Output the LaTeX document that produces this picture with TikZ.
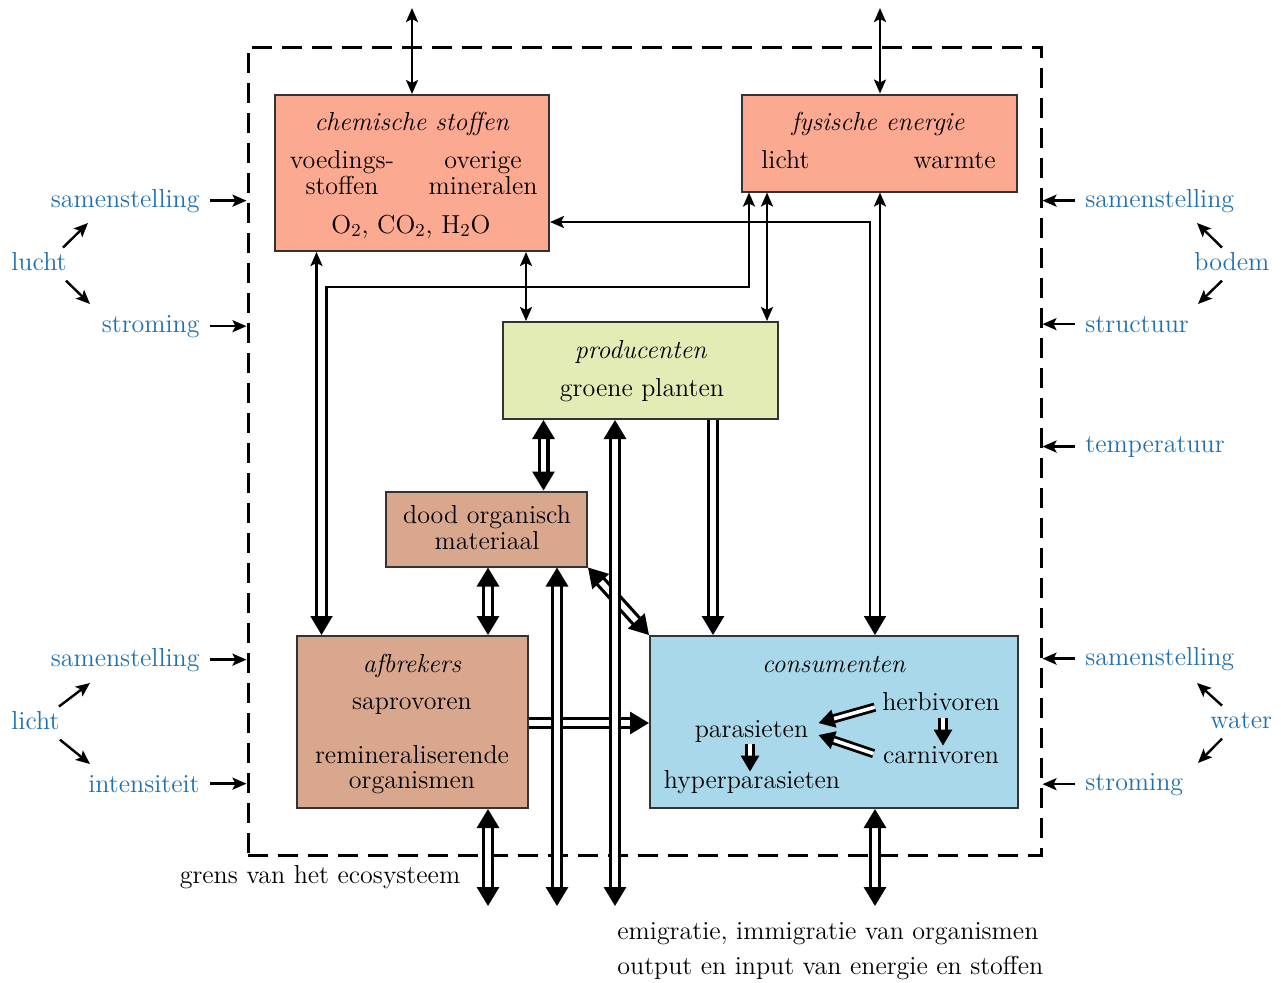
\documentclass[tikz,border=0pt]{standalone}
\usepackage{fontspec}
\usetikzlibrary{arrows.meta,calc}
\definecolor{ChemFill}{HTML}{FBA990}
\definecolor{ProdFill}{HTML}{E3ECB5}
\definecolor{DeadFill}{HTML}{D9A78E}
\definecolor{ConsFill}{HTML}{A8D8EA}
\definecolor{LabelBlue}{HTML}{1F70B0}
\definecolor{BoxLine}{HTML}{333333}

\begin{document}
\begin{tikzpicture}[
        x=0.5pt, y=-0.5pt,
        font=\fontsize{13}{13}\selectfont,
        >={Stealth[length=7pt,width=6pt,inset=1.5pt]},
        big/.tip={Triangle[length=9.5pt,width=11pt]},
        small/.tip={Triangle[length=8pt,width=9pt]},
        box/.style={draw=BoxLine, line width=1pt, inner sep=0pt},
        eco/.style={draw, line width=1.5pt, dash pattern=on 10pt off 5pt, inner sep=0pt},
        link/.style={line width=1.2pt},
        dbl/.style={double, line width=1.6pt, double distance=2.8pt},
        smalldbl/.style={double, line width=1.4pt, double distance=1.8pt, -small},
        head/.style={line width=1pt, -big},
        txt/.style={inner sep=0pt, anchor=base},
        lbl/.style={text=LabelBlue, inner sep=0pt},
        side/.style={link, ->, shorten <=5pt}
    ]
        \useasboundingbox (0,0) rectangle (1281,982);

        % grens van het ecosysteem
        \node[eco, minimum width=396.5pt, minimum height=404pt] (eco) at (644.5,451) {};

        % compartimenten
        \node[box, fill=ChemFill, minimum width=137pt, minimum height=78pt] (chem) at (412,173) {};
        \node[box, fill=ChemFill, minimum width=137.5pt, minimum height=48.5pt] (fys) at (879.5,143) {};
        \node[box, fill=ProdFill, minimum width=137.5pt, minimum height=48.5pt] (prod) at (640.5,370.5) {};
        \node[box, fill=DeadFill, minimum width=100.5pt, minimum height=37.5pt] (dood) at (486.5,529) {};
        \node[box, fill=DeadFill, minimum width=115.5pt, minimum height=86pt] (afb) at (412.5,722) {};
        \node[box, fill=ConsFill, minimum width=184pt, minimum height=86pt] (cons) at (834,722) {};

        \node[txt] (chemT) at (412,130) {\textit{chemische stoffen}};
        \node[txt] (voed1) at (342,168) {voedings-};
        \node[txt] (voed2) at (342,194) {stoffen};
        \node[txt] (over1) at (483,168) {overige};
        \node[txt] (over2) at (483,194) {mineralen};
        \node[txt] (gas) at (411,233) {O\textsubscript{2}, CO\textsubscript{2}, H\textsubscript{2}O};

        \node[txt] (fysT) at (878,130) {\textit{fysische energie}};
        \node[txt, anchor=base west] (licht) at (761,168) {licht};
        \node[txt, anchor=base east] (warmte) at (996,168) {warmte};

        \node[txt] (prodT) at (641,358) {\textit{producenten}};
        \node[txt] (prodS) at (642,396) {groene planten};

        \node[txt] (dood1) at (487,523) {dood organisch};
        \node[txt] (dood2) at (487,549) {materiaal};

        \node[txt] (afbT) at (412,672) {\textit{afbrekers}};
        \node[txt] (sapro) at (412,709) {saprovoren};
        \node[txt] (remin1) at (412,763) {remineraliserende};
        \node[txt] (remin2) at (412,788) {organismen};

        \node[txt] (consT) at (834,672) {\textit{consumenten}};
        \node[txt] (herb) at (941,710) {herbivoren};
        \node[txt] (carn) at (941,763) {carnivoren};
        \node[txt] (paras) at (751.5,737) {parasieten};
        \node[txt] (hyper) at (752,788) {hyperparasieten};

        % abiotische factoren
        \node[txt, lbl, anchor=base east] (samL1) at (200,207) {samenstelling};
        \node[txt, lbl, anchor=base west] (lucht) at (11,270) {lucht};
        \node[txt, lbl, anchor=base east] (stromL) at (200,332) {stroming};
        \node[txt, lbl, anchor=base east] (samL2) at (200,666) {samenstelling};
        \node[txt, lbl, anchor=base west] (lichtL) at (11,729) {licht};
        \node[txt, lbl, anchor=base east] (inten) at (200,792) {intensiteit};

        \node[txt, lbl, anchor=base west] (samR1) at (1085,207) {samenstelling};
        \node[txt, lbl, anchor=base west] (bodem) at (1194,270) {bodem};
        \node[txt, lbl, anchor=base west] (struct) at (1085,332) {structuur};
        \node[txt, lbl, anchor=base west] (temp) at (1085,452) {temperatuur};
        \node[txt, lbl, anchor=base west] (samR2) at (1085,665) {samenstelling};
        \node[txt, lbl, anchor=base west] (water) at (1210,728) {water};
        \node[txt, lbl, anchor=base west] (stromR) at (1085,790) {stroming};

        \node[txt] (grens) at (320,883) {grens van het ecosysteem};
        \node[txt, anchor=base west] (emi) at (617,939) {emigratie, immigratie van organismen};
        \node[txt, anchor=base west] (inout) at (617,974) {output en input van energie en stoffen};

        % hulppunten
        \coordinate (topL) at (412,8);
        \coordinate (topR) at (880,8);
        \coordinate (kA) at (316.5,0);
        \coordinate (kB) at (326.5,287);
        \coordinate (kD) at (749,287);
        \coordinate (kAB) at (321.5,0);
        \coordinate (kC) at (526,0);
        \coordinate (kE) at (767,0);
        \coordinate (kF) at (870,222);
        \coordinate (kFG) at (875,0);
        \coordinate (kPD) at (543.5,0);
        \coordinate (kPC) at (713,0);
        \coordinate (rAC) at (0,723);
        \coordinate (out1) at (488,906);
        \coordinate (out2) at (557,906);
        \coordinate (out3) at (615,906);
        \coordinate (out4) at (875,906);

        % enkele stromen
        \draw[link,<->] (topL) -- (chem.north);
        \draw[link,<->] (topR) -- (fys.north -| topR);
        \draw[link,<->] (chem.south -| kC) -- (prod.north -| kC);
        \draw[link,<->] (fys.south -| kE) -- (prod.north -| kE);
        \draw[link,<-,shorten >=9pt] (chem.south -| kA) -- (afb.north -| kA);
        \draw[link,<-,shorten >=9pt] (fys.south -| kD) -- (kD) -- (kB) -- (afb.north -| kB);
        \draw[head] ($(afb.north -| kAB)+(0,-19)$) -- (afb.north -| kAB);
        \draw[link,<-,shorten >=9pt] (chem.east |- kF) -- (kF) -- (cons.north -| kF);
        \draw[link,<-,shorten >=9pt] (fys.south -| topR) -- (cons.north -| topR);
        \draw[head] ($(cons.north -| kFG)+(0,-19)$) -- (cons.north -| kFG);

        % dubbele stromen
        \draw[dbl,big-big] (prod.south -| kPD) -- (dood.north -| kPD);
        \draw[dbl,-big] (prod.south -| kPC) -- (cons.north -| kPC);
        \draw[dbl,big-big] (dood.south -| out1) -- (afb.north -| out1);
        \draw[dbl,big-big] (dood.south east) -- (cons.north west);
        \draw[dbl,-big] (afb.east |- rAC) -- (cons.west |- rAC);
        \draw[dbl,big-big] (prod.south -| out3) -- (out3);
        \draw[dbl,big-big] (dood.south -| out2) -- (out2);
        \draw[dbl,big-big] (afb.south -| out1) -- (out1);
        \draw[dbl,big-big] (cons.south -| out4) -- (out4);

        % binnen de consumenten
        \draw[smalldbl] ($(herb.west)+(-7,6)$) -- ($(paras.east)+(10,-8)$);
        \draw[smalldbl] ($(carn.west)+(-9,-1)$) -- ($(paras.east)+(10,4)$);
        \draw[smalldbl] ($(herb.south)+(2,7)$) -- ($(carn.north)+(2,0)$);
        \draw[smalldbl] ($(paras.south)+(-1.5,2)$) -- ($(hyper.north)+(-2,2)$);

        % factoren naar de grens
        \draw[side] (samL1) -- (samL1 -| eco.west);
        \draw[side] (stromL) -- (stromL -| eco.west);
        \draw[side] (samL2) -- (samL2 -| eco.west);
        \draw[side] (inten) -- (inten -| eco.west);
        \draw[side] (samR1) -- (samR1 -| eco.east);
        \draw[side] (struct) -- (struct -| eco.east);
        \draw[side] (temp) -- (temp -| eco.east);
        \draw[side] (samR2) -- (samR2 -| eco.east);
        \draw[side] (stromR) -- (stromR -| eco.east);

        \coordinate (luchtUp) at (88,223);
        \coordinate (luchtDn) at (90,304);
        \coordinate (lichtUp) at (90,683);
        \coordinate (lichtDn) at (90,764);
        \coordinate (bodemUp) at (1197,223);
        \coordinate (bodemDn) at (1198,304);
        \coordinate (waterUp) at (1197,683);
        \coordinate (waterDn) at (1198,763);
        \draw[link,->] ([shift={(-4,-4)}]lucht.north east) -- (luchtUp);
        \draw[link,->] ([shift={(-1,10)}]lucht.south east) -- (luchtDn);
        \draw[link,->] ([shift={(-1,-4)}]lichtL.north east) -- (lichtUp);
        \draw[link,->] ([shift={(0,10)}]lichtL.south east) -- (lichtDn);
        \draw[link,->] ([shift={(28,-4)}]bodem.north west) -- (bodemUp);
        \draw[link,->] ([shift={(28,10)}]bodem.south west) -- (bodemDn);
        \draw[link,->] ([shift={(12,-6)}]water.north west) -- (waterUp);
        \draw[link,->] ([shift={(12,10)}]water.south west) -- (waterDn);
    \end{tikzpicture}
\end{document}
